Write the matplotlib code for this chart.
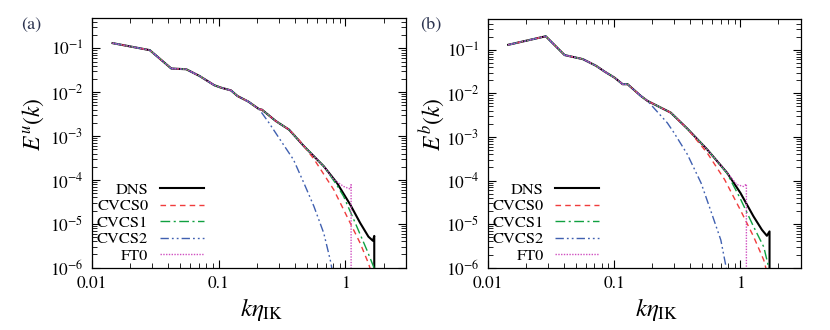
import matplotlib
matplotlib.use('Agg')
import matplotlib.pyplot as plt
from matplotlib.ticker import LogLocator, FuncFormatter, NullFormatter

plt.rcParams['font.family'] = ['STIXGeneral', 'DejaVu Serif']
plt.rcParams['mathtext.fontset'] = 'stix'

# ---- panel (a): kinetic energy spectrum E^u(k) ----
k_dns_a = [0.0146, 0.0287, 0.0424, 0.0556, 0.0707, 0.0927, 0.1047, 0.1254, 0.141, 0.172, 0.209, 0.22,
           0.283, 0.36, 0.471, 0.676, 0.86, 1.094, 1.31, 1.52, 1.65, 1.69, 1.69]
e_dns_a = [0.1315, 0.091, 0.0347, 0.0334, 0.0235, 0.0144, 0.0127, 0.0110, 0.0082, 0.0061, 0.0041, 0.0040,
           2.2e-3, 1.4e-3, 5.9e-4, 2.05e-4, 8.5e-5, 2.72e-5, 1.04e-5, 5.1e-6, 4.1e-6, 5.3e-6, 1e-8]

k_cvcs0_a = [0.42, 0.565, 0.81, 1.03, 1.31, 1.52, 1.6]
e_cvcs0_a = [9.0e-4, 3.0e-4, 6.0e-5, 1.47e-5, 3.6e-6, 1.26e-6, 8e-7]

k_cvcs1_a = [0.676, 0.86, 0.97, 1.23, 1.48, 1.67, 1.72]
e_cvcs1_a = [2.05e-4, 7.5e-5, 4.2e-5, 8.7e-6, 2.5e-6, 1.05e-6, 7e-7]

k_cvcs2_a = [0.209, 0.25, 0.305, 0.39, 0.471, 0.565, 0.676, 0.76, 0.8]
e_cvcs2_a = [4.1e-3, 2.0e-3, 8.4e-4, 2.9e-4, 8.5e-5, 2.5e-5, 6.1e-6, 1.5e-6, 7e-7]

k_ft0_a = [0.676, 0.81, 0.97, 1.094, 1.11, 1.11]
e_ft0_a = [2.05e-4, 1.02e-4, 7.1e-5, 6.2e-5, 7.8e-5, 1e-8]

# ---- panel (b): magnetic energy spectrum E^b(k) ----
k_dns_b = [0.01453, 0.0288, 0.0406, 0.0566, 0.0721, 0.085, 0.1005, 0.117, 0.128, 0.163, 0.184, 0.281,
           0.38, 0.546, 0.785, 1.0, 1.27, 1.48, 1.62, 1.70, 1.70]
e_dns_b = [0.130, 0.204, 0.0755, 0.061, 0.0428, 0.031, 0.0231, 0.0162, 0.0162, 0.0087, 0.0067, 0.00361,
           1.55e-3, 5.15e-4, 1.5e-4, 5.2e-5, 1.5e-5, 7.4e-6, 5.4e-6, 6.8e-6, 1e-8]

k_cvcs0_b = [0.45, 0.546, 0.75, 1.0, 1.27, 1.53, 1.62]
e_cvcs0_b = [8.5e-4, 4.3e-4, 1.05e-4, 2.1e-5, 5.2e-6, 1.5e-6, 8e-7]

k_cvcs1_b = [0.785, 1.0, 1.27, 1.53, 1.67, 1.72]
e_cvcs1_b = [1.45e-4, 3.8e-5, 8.8e-6, 3.0e-6, 1.05e-6, 7e-7]

k_cvcs2_b = [0.184, 0.264, 0.298, 0.38, 0.488, 0.58, 0.70, 0.76, 0.79]
e_cvcs2_b = [6.7e-3, 2.1e-3, 1.25e-3, 4.0e-4, 8.8e-5, 2.1e-5, 4.3e-6, 1.26e-6, 7e-7]

k_ft0_b = [0.785, 0.94, 1.06, 1.115, 1.115]
e_ft0_b = [1.5e-4, 8.05e-5, 7.3e-5, 8.3e-5, 1e-8]

labels = ['DNS', 'CVCS0', 'CVCS1', 'CVCS2', 'FT0']


def prefix(k_dns, e_dns, k_split):
    # the models coincide with DNS below the splitting wavenumber
    kk = [k for k in k_dns if k < k_split]
    return kk, e_dns[:len(kk)]


def draw_panel(ax, k_dns, e_dns, models):
    ax.plot(k_dns, e_dns, color='black', lw=1.5, label=labels[0])
    styles = [('#f03c3c', (0, (4, 3))),
              ('#10a040', (0, (7, 2.5, 1.5, 2.5))),
              ('#4060b0', (0, (6, 2.2, 1.3, 2.2, 1.3, 2.2))),
              ('#d050c0', (0, (1, 1)))]
    for (k_m, e_m), (c, ls), lab in zip(models, styles, labels[1:]):
        kp, ep = prefix(k_dns, e_dns, k_m[0])
        ax.plot(kp + k_m, ep + e_m, color=c, ls=ls, lw=1.0, label=lab)

    ax.set_xscale('log')
    ax.set_yscale('log')
    ax.set_xlim(0.01, 3)
    ax.set_ylim(1e-6, 0.5)
    ax.xaxis.set_major_locator(LogLocator(base=10, numticks=10))
    ax.xaxis.set_major_formatter(FuncFormatter(lambda v, p: '%g' % v))
    ax.xaxis.set_minor_locator(LogLocator(base=10, subs=range(2, 10), numticks=20))
    ax.xaxis.set_minor_formatter(NullFormatter())
    ax.yaxis.set_major_locator(LogLocator(base=10, numticks=12))
    ax.yaxis.set_minor_locator(LogLocator(base=10, subs=range(2, 10), numticks=20))
    ax.yaxis.set_minor_formatter(NullFormatter())
    ax.tick_params(which='both', direction='in', top=True, right=True, labelsize=12.5, pad=6)
    ax.tick_params(which='major', length=6, width=0.8)
    ax.tick_params(which='minor', length=3.5, width=0.6)
    for s in ax.spines.values():
        s.set_linewidth(0.9)

    ax.set_xlabel(r'$k\eta_{\rm IK}$', fontsize=18)
    ax.xaxis.set_label_coords(0.54, -0.115)

    ax.legend(loc='lower right', bbox_to_anchor=(0.357, 0.02), markerfirst=False, frameon=False,
              borderaxespad=0, borderpad=0, handlelength=2.7, handletextpad=0.7,
              labelspacing=0.12, fontsize=11.8)


fig = plt.figure(figsize=(8.3, 3.3), dpi=100)
ax_a = fig.add_axes([0.1105, 0.1888, 0.3785, 0.7576])
ax_b = fig.add_axes([0.5876, 0.1888, 0.3771, 0.7527])

draw_panel(ax_a, k_dns_a, e_dns_a,
           [(k_cvcs0_a, e_cvcs0_a), (k_cvcs1_a, e_cvcs1_a), (k_cvcs2_a, e_cvcs2_a), (k_ft0_a, e_ft0_a)])
draw_panel(ax_b, k_dns_b, e_dns_b,
           [(k_cvcs0_b, e_cvcs0_b), (k_cvcs1_b, e_cvcs1_b), (k_cvcs2_b, e_cvcs2_b), (k_ft0_b, e_ft0_b)])

# y labels placed in figure pixels
fig.text(33 / 830, 1 - 124 / 330, r'$E^u(k)$', fontsize=17, rotation=90, ha='center', va='center')
fig.text(432 / 830, 1 - 124 / 330, r'$E^b(k)$', fontsize=17, rotation=90, ha='center', va='center')

fig.text(20.7 / 830, 1 - 25 / 330, '(a)', fontsize=13, va='center', ha='left', color='#2c3450')
fig.text(420 / 830, 1 - 25 / 330, '(b)', fontsize=13, va='center', ha='left', color='#2c3450')

fig.savefig('out.png', dpi=100)
